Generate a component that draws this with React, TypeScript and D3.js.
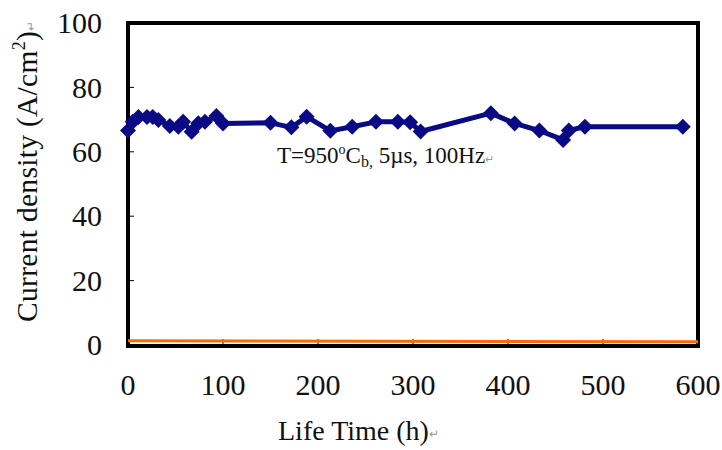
import React from "react";
import * as d3 from "d3";

// life time (h) and current density (A/cm2)
const hours = [0, 5, 11, 20, 26, 32, 44, 53, 58, 67, 74, 81, 93, 100, 150, 172, 188, 213, 236, 261, 284, 297, 308, 382, 407, 433, 458, 464, 481, 584];
const density = [66.6, 69.3, 70.8, 70.8, 70.8, 69.9, 68, 67.8, 69.3, 66.2, 68.9, 69.3, 71.1, 68.8, 69, 67.6, 70.9, 66.5, 67.8, 69.3, 69.3, 69.2, 66.3, 72, 68.8, 66.6, 63.7, 66.6, 67.8, 67.8];

// second (orange) series lying on the floor of the chart
const baseHours = [0, 600];
const baseValues = [1.3, 1.0];

const xTicks = [0, 100, 200, 300, 400, 500, 600];
const yTicks = [0, 20, 40, 60, 80, 100];

const W = 722;
const H = 450;
const serif = "'Liberation Serif', 'Times New Roman', serif";

const App = () => {
  const margin = { top: 23, right: 24, bottom: 105, left: 128 };
  const x = d3.scaleLinear().domain([0, 600]).range([margin.left, W - margin.right]);
  const y = d3.scaleLinear().domain([0, 100]).range([H - margin.bottom, margin.top]);

  const pts = hours.map((h, i) => [x(h), y(density[i])] as [number, number]);
  const line = d3.line();
  const basePts = baseHours.map((h, i) => [x(h), y(baseValues[i])] as [number, number]);

  const d = 8; // half diagonal of diamond
  const diamond = ([px, py]: [number, number]) =>
    `M${px},${py - d}L${px + d},${py}L${px},${py + d}L${px - d},${py}Z`;

  const x0 = x(0), x1 = x(600), y0 = y(0), y1 = y(100);

  return (
    <svg
      width={W}
      height={H}
      style={{ position: "absolute", left: 0, top: 0, background: "#fff" }}
      fontFamily={serif}
    >
      {/* tick marks pointing inwards */}
      {yTicks.slice(1, -1).map((t) => (
        <line key={"yt" + t} x1={x0} x2={x0 + 6} y1={y(t)} y2={y(t)} stroke="#000" strokeWidth={1} />
      ))}
      {xTicks.slice(1, -1).map((t) => (
        <line key={"xt" + t} x1={x(t)} x2={x(t)} y1={y0} y2={y0 - 6} stroke="#000" strokeWidth={1} />
      ))}

      {/* plot frame */}
      <rect x={x0} y={y1} width={x1 - x0} height={y0 - y1 + 1} fill="none" stroke="#000" strokeWidth={4} />

      {/* orange series */}
      <path d={line(basePts) ?? ""} fill="none" stroke="#ff6a00" strokeWidth={3} />

      {/* main series */}
      <path d={line(pts) ?? ""} fill="none" stroke="#0a0a84" strokeWidth={5} strokeLinejoin="round" />
      {pts.map((p, i) => (
        <path key={i} d={diamond(p)} fill="#0a0a84" />
      ))}

      {/* y tick labels */}
      {yTicks.map((t) => (
        <text key={"yl" + t} x={102} y={y(t)} dy="0.34em" textAnchor="end" fontSize={30} fill="#111">
          {t}
        </text>
      ))}
      {/* x tick labels */}
      {xTicks.map((t) => (
        <text key={"xl" + t} x={x(t)} y={395} textAnchor="middle" fontSize={30} fill="#111">
          {t}
        </text>
      ))}

      {/* axis titles */}
      <text x={278} y={440} fontSize={28} fill="#111">
        Life Time (h)
        <tspan fontSize={12} fill="#999" dy={-2}>↵</tspan>
      </text>
      <text transform="translate(37,322) rotate(-90)" fontSize={29.5} fill="#111" letterSpacing={0.3}>
        Current density (A/cm
        <tspan fontSize={18} dy={-12}>2</tspan>
        <tspan dy={12}>)</tspan>
        <tspan fontSize={12} fill="#999" dy={-2}>↵</tspan>
      </text>

      {/* condition note */}
      <text x={277} y={163} fontSize={23} fill="#111">
        T=950
        <tspan fontSize={14} dy={-9}>o</tspan>
        <tspan dy={9}>C</tspan>
        <tspan fontSize={16} dy={4}>b,</tspan>
        <tspan dy={-4}> 5µs, 100Hz</tspan>
        <tspan fontSize={11} fill="#999">↵</tspan>
      </text>
    </svg>
  );
};

export default App;
